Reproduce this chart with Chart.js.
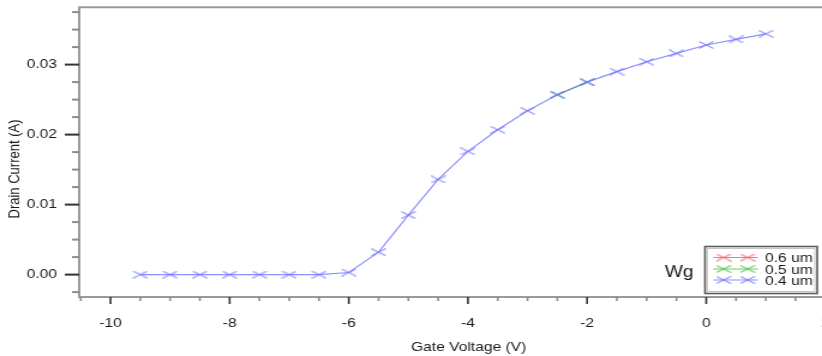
<!DOCTYPE html>
<html>
<head>
<meta charset="utf-8">
<script src="https://cdn.jsdelivr.net/npm/chart.js@4.4.1/dist/chart.umd.min.js"></script>
<style>
  html, body { margin: 0; padding: 0; background: #fff; overflow: hidden; width: 822px; height: 356px; }
  /* the source picture is stretched sideways, so the whole chart is too */
  #wrap { width: 695px; height: 356px; transform: scaleX(1.2); transform-origin: 0 0; }
</style>
</head>
<body>
<div id="wrap"><canvas id="chart" width="695" height="356" style="width:695px;height:356px"></canvas></div>
<script>
// Gate voltage sweep (V)
const gateVoltage = [-9.5, -9, -8.5, -8, -7.5, -7, -6.5, -6, -5.5, -5, -4.5, -4, -3.5, -3,
  -2.5, -2, -1.5, -1, -0.5, 0, 0.5, 1];
// Drain current (A) for Wg = 0.4 um
const drainCurrent04 = [0, 0, 0, 0, 0, 0, 0, 0.0003, 0.0032, 0.0085, 0.0136, 0.0176, 0.0207, 0.0234,
  0.0257, 0.0275, 0.0290, 0.0304, 0.0316, 0.0328, 0.0336, 0.0344];
// Wg = 0.5 um only shows where it peeks out of the 0.4 um curve
const gateVoltage05 = [-2.5, -2];
const drainCurrent05 = [0.0257, 0.0275];
// Wg = 0.6 um is hidden under the others
const gateVoltage06 = [];
const drainCurrent06 = [];

const seriesLabels = ['0.6 um', '0.5 um', '0.4 um'];
const xMajorTicks = [-10, -8, -6, -4, -2, 0, 2];

const FONT = 'Liberation Sans, Arial, sans-serif';

// flat "x" marker like the original plot
function makeMarker(color) {
  const c = document.createElement('canvas');
  c.width = 13; c.height = 8;
  const g = c.getContext('2d');
  g.strokeStyle = color;
  g.lineWidth = 1.1;
  g.beginPath();
  g.moveTo(0.5, 0.5); g.lineTo(12.5, 7.5);
  g.moveTo(0.5, 7.5); g.lineTo(12.5, 0.5);
  g.stroke();
  return c;
}

const colors = {
  red: 'rgba(255, 90, 90, 0.85)',
  green: 'rgba(60, 190, 60, 0.75)',
  blue: 'rgba(115, 115, 255, 0.8)'
};

const toPoints = (xs, ys) => xs.map((x, i) => ({ x, y: ys[i] }));

// ticks, spines, titles, legend
const decorations = {
  id: 'decorations',
  afterDraw(chart) {
    const { ctx, chartArea: a, scales } = chart;
    ctx.save();

    // frame
    ctx.strokeStyle = '#9a9a9a';
    ctx.lineWidth = 2;
    ctx.beginPath();
    ctx.moveTo(a.right + 8, a.top); ctx.lineTo(a.left, a.top);
    ctx.lineTo(a.left, a.bottom); ctx.lineTo(a.right + 8, a.bottom);
    ctx.stroke();

    // y ticks
    const ys = scales.y;
    ys.ticks.forEach(t => {
      const py = ys.getPixelForValue(t.value);
      const major = Math.abs(t.value / 0.01 - Math.round(t.value / 0.01)) < 1e-6;
      ctx.strokeStyle = major ? '#333' : '#8a8a8a';
      ctx.lineWidth = 2;
      ctx.beginPath();
      ctx.moveTo(a.left - (major ? 12 : 6), py);
      ctx.lineTo(a.left, py);
      ctx.stroke();
    });

    // x ticks
    const xs = scales.x;
    xs.ticks.forEach(t => {
      const px = xs.getPixelForValue(t.value);
      const major = xMajorTicks.includes(t.value);
      ctx.strokeStyle = major ? '#333' : '#8a8a8a';
      ctx.lineWidth = 1.6;
      ctx.beginPath();
      ctx.moveTo(px, a.bottom);
      ctx.lineTo(px, a.bottom + (major ? 7 : 4));
      ctx.stroke();
    });

    // axis titles
    ctx.fillStyle = '#1a1a1a';
    ctx.font = '13px ' + FONT;
    ctx.textAlign = 'center';
    ctx.textBaseline = 'middle';
    ctx.fillText('Gate Voltage (V)', 390.5, 347);
    ctx.save();
    ctx.translate(12.5, 169);
    ctx.rotate(-Math.PI / 2);
    ctx.fillText('Drain Current (A)', 0, 0);
    ctx.restore();

    // legend
    ctx.font = '16px ' + FONT;
    ctx.textBaseline = 'alphabetic';
    ctx.fillText('Wg', 566, 276.5);

    ctx.strokeStyle = '#5a5a5a';
    ctx.lineWidth = 1.6;
    ctx.strokeRect(587.5, 246.5, 93.5, 47);
    ctx.strokeStyle = '#c4c4c4';
    ctx.lineWidth = 1;
    ctx.strokeRect(589.5, 248.5, 89.5, 43);

    const rowY = [257.5, 269, 280];
    ctx.font = '13px ' + FONT;
    ctx.textAlign = 'left';
    seriesLabels.forEach((label, i) => {
      const ds = chart.data.datasets.find(d => d.label === label);
      const y = rowY[i];
      ctx.strokeStyle = ds.borderColor;
      ctx.lineWidth = 1.2;
      ctx.beginPath();
      ctx.moveTo(594.5, y); ctx.lineTo(631.5, y);
      ctx.stroke();
      [603, 623].forEach(mx => {
        ctx.drawImage(ds.pointStyle, mx - 6.5, y - 4);
      });
      ctx.fillStyle = '#1a1a1a';
      ctx.fillText(label, 637.5, y + 4.8);
    });

    ctx.restore();
  }
};

// keep the plot box where it is, whatever room the tick labels ask for
function noScalePadding(scale) {
  scale.paddingTop = 0;
  scale.paddingBottom = 0;
  scale.paddingLeft = 0;
  scale.paddingRight = 0;
}

const ctx = document.getElementById('chart').getContext('2d');
new Chart(ctx, {
  type: 'line',
  data: {
    datasets: [
      {
        label: seriesLabels[0],
        data: toPoints(gateVoltage06, drainCurrent06),
        borderColor: colors.red,
        borderWidth: 1.2,
        pointStyle: makeMarker(colors.red)
      },
      {
        label: seriesLabels[2],
        data: toPoints(gateVoltage, drainCurrent04),
        borderColor: colors.blue,
        borderWidth: 1.2,
        pointStyle: makeMarker(colors.blue)
      },
      {
        label: seriesLabels[1],
        data: toPoints(gateVoltage05, drainCurrent05),
        borderColor: colors.green,
        borderWidth: 1.2,
        pointStyle: makeMarker(colors.green)
      }
    ]
  },
  options: {
    responsive: false,
    animation: false,
    devicePixelRatio: 1,
    layout: { padding: { left: 0, right: 3, top: 5, bottom: 0 } },
    elements: { line: { tension: 0, fill: false }, point: { radius: 6 } },
    plugins: { legend: { display: false }, tooltip: { enabled: false } },
    scales: {
      x: {
        type: 'linear',
        min: -10.525,
        max: 2,
        border: { display: false },
        grid: { display: false, drawTicks: false },
        afterFit(scale) { scale.height = 59; noScalePadding(scale); },
        ticks: {
          stepSize: 0.5,
          includeBounds: false,
          autoSkip: false,
          maxRotation: 0,
          padding: 19,
          color: '#1a1a1a',
          font: { family: FONT, size: 13 },
          callback: v => (xMajorTicks.includes(v) ? String(v) : '')
        }
      },
      y: {
        type: 'linear',
        min: -0.0032,
        max: 0.0382,
        border: { display: false },
        grid: { display: false, drawTicks: false },
        afterFit(scale) { scale.width = 66; noScalePadding(scale); },
        ticks: {
          stepSize: 0.0025,
          includeBounds: false,
          autoSkip: false,
          padding: 18.5,
          color: '#1a1a1a',
          font: { family: FONT, size: 13 },
          callback: v => (Math.abs(v / 0.01 - Math.round(v / 0.01)) < 1e-6 ? v.toFixed(2) : '')
        }
      }
    }
  },
  plugins: [decorations]
});
</script>
</body>
</html>
